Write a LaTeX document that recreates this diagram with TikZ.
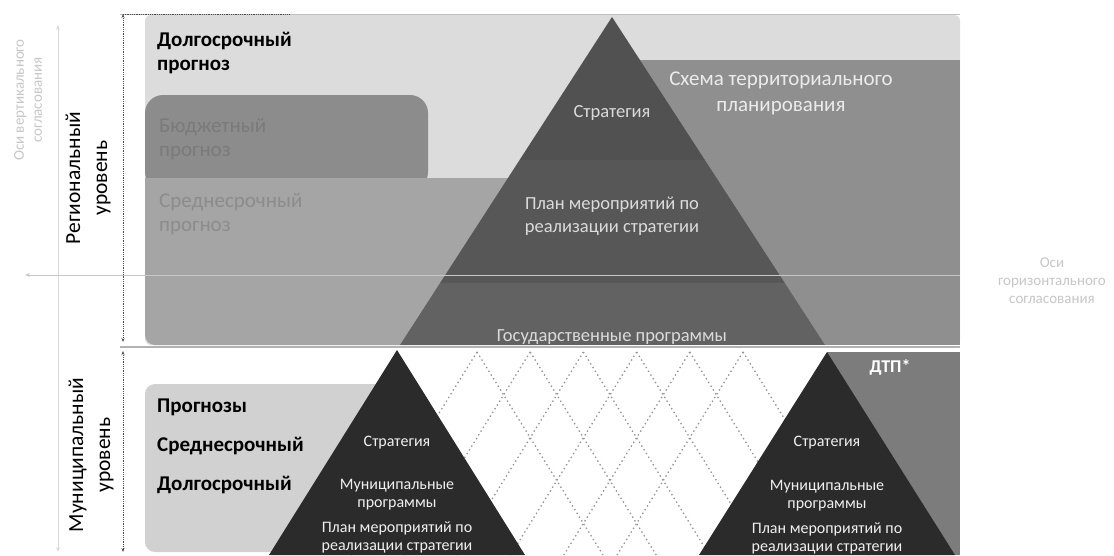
\documentclass[tikz,border=0pt]{standalone}
\usepackage{fontspec}
\setmainfont{Carlito}
\usetikzlibrary{positioning,arrows.meta}

\definecolor{boxlight}{HTML}{DCDCDC}
\definecolor{boxbud}{HTML}{8C8C8C}
\definecolor{boxmid}{HTML}{A5A5A5}
\definecolor{boxplan}{HTML}{8F8F8F}
\definecolor{pyrtop}{HTML}{515151}
\definecolor{pyrmid}{HTML}{575757}
\definecolor{pyrlow}{HTML}{626262}
\definecolor{boxmun}{HTML}{D1D1D1}
\definecolor{boxdtp}{HTML}{7C7C7C}
\definecolor{pyrmun}{HTML}{2B2B2B}

\begin{document}
\begin{tikzpicture}[x=1pt,y=-1pt,on grid,
    axis/.style={densely dotted,thick,draw=black!70,{Stealth[length=4pt]}-{Stealth[length=4pt]}},
    faintaxis/.style={draw=black!15,thick,{Stealth[length=5pt]}-{Stealth[length=5pt]}},
    faint/.style={text=black!22,font=\fontsize{15}{18}\selectfont,align=center},
    head/.style={font=\fontsize{21}{24}\selectfont\bfseries,anchor=north west,inner sep=0,align=left},
    soft/.style={font=\fontsize{21}{24}\selectfont,anchor=north west,inner sep=0,align=left},
    level/.style={font=\fontsize{21.5}{27}\selectfont,rotate=90,align=center},
    ptext/.style={font=\fontsize{18.5}{23}\selectfont,text=black!14,align=center},
    mtext/.style={font=\fontsize{16}{18}\selectfont,text=black!6,align=center},
    lattice/.style={draw=black!42,line width=1.3pt,dash pattern=on 1.4pt off 3pt}]
  \fill[white] (0,0) rectangle (1114,555);
  \useasboundingbox (0,0) rectangle (1114,555);

  % faint axes of coordination
  \coordinate (vtop) at (58,25);
  \coordinate (vbot) at (58,552);
  \coordinate (hleft) at (25,275);
  \coordinate (hright) at (960,275);
  \draw[faintaxis] (vtop) -- (vbot);
  \node[faint,rotate=90] (vcoord) at (28,100) {Оси вертикального\\согласования};
  \node[faint] (hcoord) at (1052,281) {Оси\\горизонтального\\согласования};

  % regional level
  \fill[boxlight,rounded corners=6] (145,15) rectangle (960,345);
  \fill[boxplan] (600,60) rectangle (960,345);
  \fill[boxbud,rounded corners=18] (145,95) rectangle (428,190);
  \fill[boxmid,rounded corners=10] (145,178) rectangle (560,345);
  \fill[boxmid] (145,178) rectangle (165,195);
  \begin{scope}
    \clip (612,17) -- (825,345) -- (400,345) -- cycle;
    \fill[pyrtop] (380,0) rectangle (850,160);
    \fill[pyrmid] (380,160) rectangle (850,283);
    \fill[pyrlow] (380,283) rectangle (850,345);
  \end{scope}
  \draw[faintaxis,draw=black!22,-,{Stealth[length=5pt]}-] (hleft) -- (hright);

  \node[head] (rlong) at (157,32) {Долгосрочный\\прогноз};
  \node[soft,text=black!52] (rbud) at (159,118) {Бюджетный\\прогноз};
  \node[soft,text=black!45] (rmid) at (159,193) {Среднесрочный\\прогноз};
  \node[font=\fontsize{21}{26}\selectfont,text=black!8,align=center] (rplan) at (781,93) {Схема территориального\\планирования};
  \node[ptext] (rstrat) at (612,113) {Стратегия};
  \node[ptext,below=103pt of rstrat] (ract) {План мероприятий по\\реализации стратегии};
  \node[ptext,below=121pt of ract] (rgov) {Государственные программы};

  % border lines
  \draw[black!25,thick] (120,14) -- (960,14);
  \draw[black!30,line width=1.5pt] (120,347) -- (960,347);

  % municipal level
  \fill[boxmun,rounded corners=10] (145,384) rectangle (392,552);
  \fill[boxdtp] (827,352) rectangle (960,555);
  \foreach \k in {0,...,5} {
    \draw[lattice] (477+53.2*\k,352) -- ++(-126,203);
    \draw[lattice] (477+53.2*\k,352) -- ++(126,203);
  }
  \fill[pyrmun] (397,350) -- (525,555) -- (269,555) -- cycle;
  \fill[pyrmun] (827,352) -- (955,555) -- (699,555) -- cycle;

  \node[head,font=\fontsize{21}{39}\selectfont\bfseries] (mprog) at (157,399) {Прогнозы\\Среднесрочный\\Долгосрочный};
  \node[font=\fontsize{18}{20}\selectfont\bfseries,text=white] (mdtp) at (890,367) {ДТП*};

  \node[mtext] (lstrat) at (397,443) {Стратегия};
  \node[mtext,below=52pt of lstrat] (lmun) {Муниципальные\\программы};
  \node[mtext,below=42pt of lmun] (lact) {План мероприятий по\\реализации стратегии};
  \node[mtext] (dstrat) at (827,443) {Стратегия};
  \node[mtext,below=53pt of dstrat] (dmun) {Муниципальные\\программы};
  \node[mtext,below=42pt of dmun] (dact) {План мероприятий по\\реализации стратегии};

  % level axes
  \coordinate (rtop) at (123,14);
  \coordinate (rbot) at (123,342);
  \coordinate (mtop) at (123,351);
  \coordinate (mbot) at (123,552);
  \draw[axis] (rtop) -- (rbot);
  \draw[axis] (mtop) -- (mbot);
  \draw[densely dotted,thick,black!70] (rtop) -- (290,14);
  \node[level] (rlevel) at (88,178) {Региональный\\уровень};
  \node[level] (mlevel) at (91,455) {Муниципальный\\уровень};
\end{tikzpicture}
\end{document}
